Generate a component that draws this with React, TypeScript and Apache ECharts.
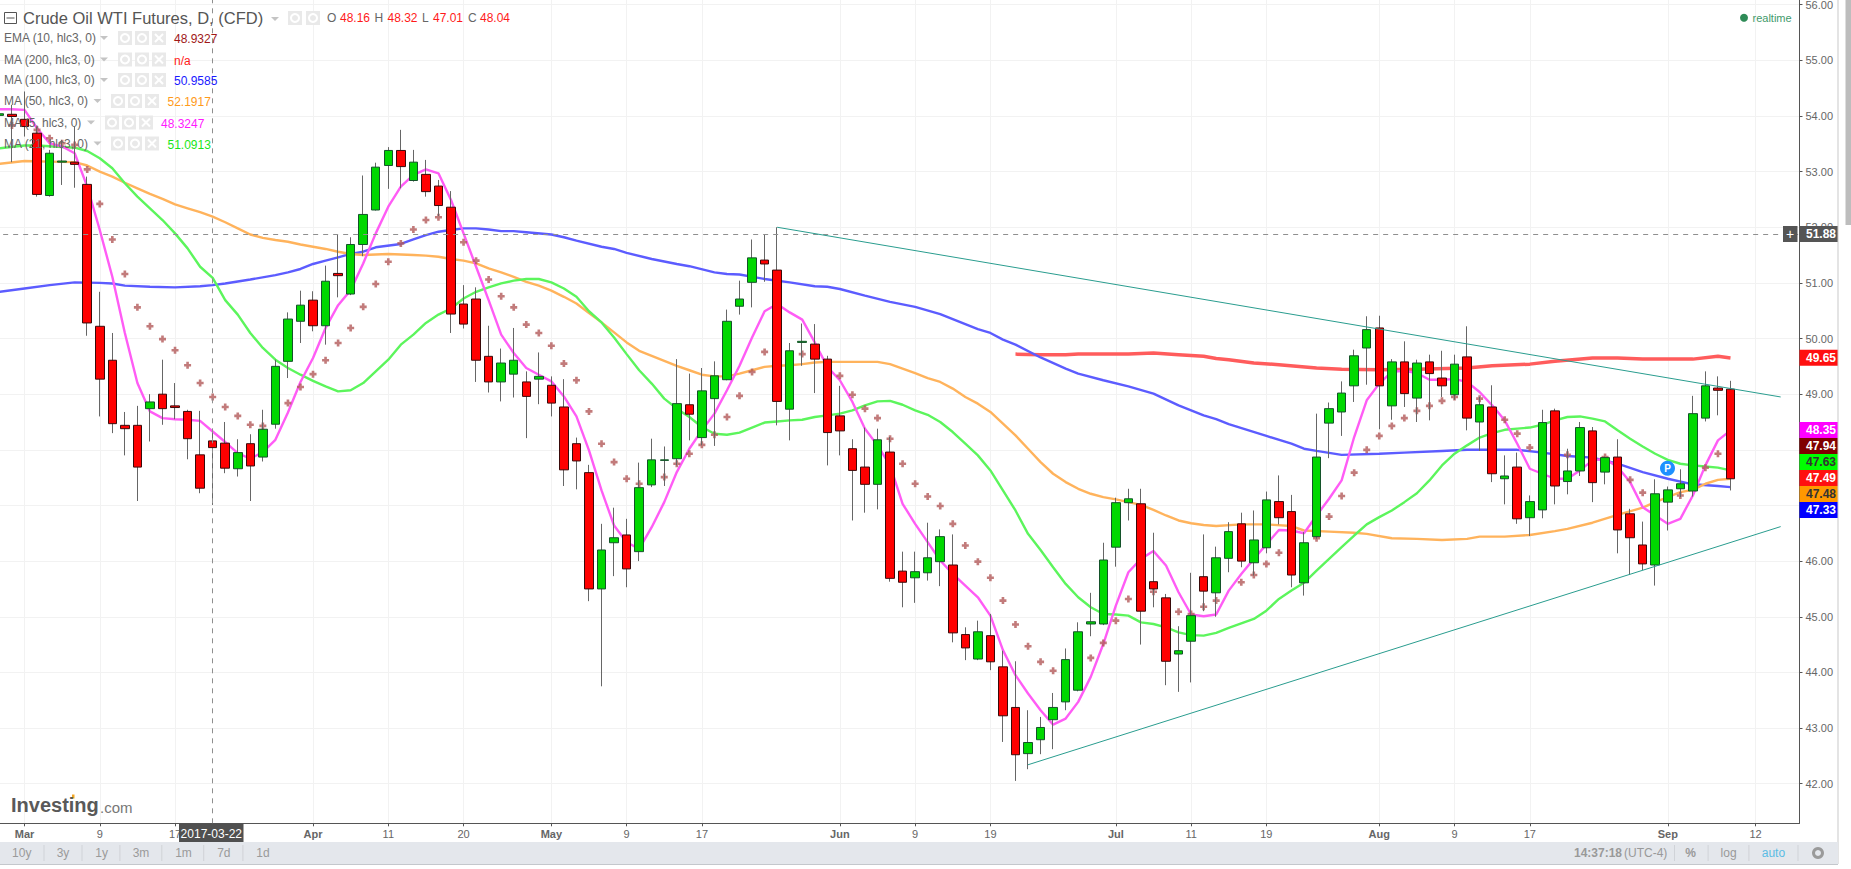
import React, { useEffect, useRef } from "react";
import * as echarts from "echarts";

// Candles, oldest first: Feb 27 2017 .. Sep 8 2017
const opens = [54.01,54.03,53.94,53.69,52.57,53.17,53.17,52.77,50.22,49.61,
48.44,48.44,48.74,49.0,48.79,48.69,47.91,48.16,48.12,47.66,
48.11,47.87,48.46,49.59,50.31,50.69,50.23,51.17,50.8,51.69,
52.31,53.11,53.38,52.84,52.95,52.74,52.36,50.62,50.71,49.68,
49.22,49.36,49.22,49.27,49.16,48.77,48.11,47.59,45.5,46.33,
46.47,46.17,47.37,47.81,47.84,48.81,48.22,48.92,49.26,50.58,
51.01,51.41,51.23,48.73,49.93,49.9,49.63,48.61,48.02,47.69,
47.38,47.96,45.82,45.7,45.79,45.99,45.93,44.68,44.24,44.66,
44.1,43.37,42.54,42.79,43.15,43.47,43.68,44.87,44.87,46.25,
47.05,47.03,45.63,45.34,44.33,44.56,45.72,45.43,46.05,46.67,
45.97,46.24,47.07,46.89,45.61,46.44,48.48,48.68,49.15,49.83,
50.19,48.79,49.58,48.93,49.58,49.29,48.99,49.67,48.5,48.77,
47.48,47.69,46.78,46.92,48.7,47.43,47.62,48.34,47.6,47.87,
46.85,46.29,45.93,47.06,47.3,47.26,48.57,49.11,49.09];
const closes = [54.04,53.99,53.81,52.59,53.33,53.19,53.13,50.28,49.27,48.47,
48.38,47.69,48.86,48.74,48.76,48.2,47.31,48.04,47.67,47.95,
47.71,48.37,49.5,50.35,50.6,50.23,51.03,51.13,51.69,52.23,
53.08,53.38,53.09,53.17,52.64,52.39,50.44,50.26,49.61,49.22,
49.56,49.61,48.96,49.32,48.84,47.64,47.8,45.5,46.2,46.42,
45.86,47.32,47.82,47.82,48.83,48.64,49.06,49.33,50.31,50.71,
51.45,51.34,48.87,49.78,49.95,49.63,48.31,48.34,47.63,47.38,
48.18,45.69,45.62,45.81,46.06,46.44,44.71,44.44,44.73,44.19,
43.22,42.52,42.74,43.01,43.37,44.23,44.73,44.91,46.02,47.05,
47.12,45.1,45.5,44.2,44.39,45.02,45.46,46.06,46.53,46.0,
46.38,47.1,46.78,45.75,46.33,47.87,48.74,49.02,49.69,50.16,
49.15,49.58,49.01,49.56,49.37,49.15,49.54,48.57,48.81,47.57,
47.53,46.76,47.07,48.49,47.35,47.62,48.4,47.41,47.86,46.56,
46.42,45.95,47.21,47.28,47.39,48.65,49.15,49.07,47.48];
const lows = [53.3,53.17,53.63,52.55,52.55,52.76,52.71,50.05,48.6,48.3,
47.9,47.08,48.15,48.45,48.55,47.83,47.22,47.01,47.58,47.52,
47.08,47.79,48.38,49.29,49.92,50.13,49.89,50.74,50.78,51.48,
52.3,52.69,52.7,52.82,52.55,52.2,50.1,50.18,49.22,49.03,
48.87,48.94,48.21,48.82,48.6,47.35,47.29,45.28,43.75,45.73,
45.53,46.0,47.33,47.35,47.72,48.17,48.08,48.07,49.25,50.43,
50.56,51.02,48.44,48.17,49.51,49.02,47.72,47.9,46.73,46.87,
46.93,45.63,45.17,45.25,45.65,45.55,44.54,44.22,44.22,44.04,
42.75,42.05,42.26,42.53,42.62,43.32,43.66,44.65,44.85,45.9,
46.73,44.5,45.17,43.77,43.65,43.82,45.1,45.0,45.8,45.89,
45.74,46.14,46.66,45.53,45.38,46.4,47.85,48.25,48.86,49.17,
48.37,48.54,48.77,48.5,48.53,48.95,48.9,48.35,47.98,47.42,
47.02,46.67,46.45,46.77,47.02,47.2,47.53,47.06,47.38,46.14,
45.75,45.84,45.56,46.55,47.15,47.16,48.51,48.62,47.27];
const highs = [54.2,54.2,54.44,53.8,53.39,53.57,53.81,52.91,50.84,50.1,
48.68,48.79,49.0,49.62,49.2,48.72,48.7,48.32,48.5,48.19,
48.28,48.72,49.62,50.47,50.86,50.85,51.31,51.87,51.82,52.93,
53.16,53.44,53.75,53.39,53.21,52.85,52.65,50.96,50.92,50.23,
49.82,50.19,49.41,49.75,49.32,49.27,48.22,47.73,46.67,46.96,
46.76,47.77,48.2,48.06,49.63,49.37,49.47,49.59,50.52,51.04,
51.78,51.87,52.0,49.92,50.27,50.26,49.69,49.15,48.19,48.4,
48.38,48.23,46.17,46.17,46.69,46.57,46.48,44.81,44.93,45.05,
44.39,44.2,43.32,43.2,43.63,44.43,44.9,45.43,46.33,47.14,
47.3,47.3,46.51,45.41,44.83,45.79,46.48,46.26,46.7,46.87,
46.91,47.25,47.54,47.19,46.52,48.65,48.85,49.23,49.8,50.4,
50.41,49.63,49.95,49.62,49.71,49.78,49.71,50.22,48.95,49.16,
47.9,47.95,47.18,48.72,48.74,48.02,48.5,48.41,47.88,48.19,
46.94,46.71,47.47,47.34,47.65,48.97,49.41,49.32,49.24];

// Indicators as [day index (Mar 1 = 0), price] readings
const ema10: number[][] = [[-1,53.83],[1,53.75],[2,53.6],[3,53.51],[4,53.48],[5,53.04],[6,52.42],[7,51.78],[8,51.16],[9,50.56],[10,50.22],[11,49.99],[12,49.79],[13,49.52],[14,49.2],[15,48.95],[16,48.77],[17,48.61],[18,48.45],[19,48.43],[21,48.84],[22,49.13],[23,49.36],[24,49.61],[25,49.92],[26,50.19],[27,50.57],[28,50.98],[29,51.38],[30,51.71],[31,51.96],[32,52.13],[33,52.18],[35,51.73],[36,51.4],[37,51.06],[38,50.76],[39,50.56],[40,50.25],[41,50.1],[42,49.87],[43,49.55],[44,49.25],[45,48.69],[46,48.11],[47,47.78],[48,47.48],[49,47.39],[51,47.51],[52,47.75],[53,47.93],[54,48.09],[55,48.27],[56,48.59],[57,48.97],[58,49.4],[59,49.76],[62,49.72],[65,49.33],[66,48.99],[67,48.74],[68,48.57],[69,48.2],[70,47.75],[71,47.39],[72,47.16],[73,46.99],[74,46.67],[75,46.28],[76,45.99],[77,45.7],[78,45.29],[79,44.86],[80,44.47],[81,44.19],[82,44.03],[85,44.26],[86,44.53],[87,44.93],[88,45.32],[90,45.45],[92,45.09],[93,45.05],[94,45.18],[95,45.29],[97,45.62],[98,45.75],[99,45.95],[100,46.15],[103,46.41],[104,46.8],[105,47.17],[106,47.59],[107,48.0],[108,48.25],[109,48.43],[110,48.57],[111,48.7],[112,48.79],[113,48.88],[114,48.95],[116,48.92],[118,48.54],[119,48.29],[120,48.04],[123,47.91],[126,47.87],[128,47.46],[129,47.23],[132,47.18],[134,47.68],[135,47.93]];
const ma5: number[][] = [[-2,54.12],[-1,54.12],[0,54.11],[1,53.78],[2,53.51],[3,53.45],[4,53.33],[5,52.73],[6,51.95],[7,51.11],[8,50.1],[9,49.2],[10,48.69],[11,48.57],[12,48.55],[13,48.54],[14,48.52],[15,48.33],[16,48.14],[17,47.94],[18,47.84],[19,47.96],[20,48.18],[21,48.67],[22,49.22],[23,49.65],[24,50.19],[25,50.6],[26,50.87],[27,51.35],[28,51.89],[29,52.37],[30,52.73],[31,52.94],[32,53.04],[33,52.97],[34,52.49],[35,51.89],[36,51.29],[37,50.69],[38,50.07],[39,49.74],[40,49.47],[41,49.35],[42,49.23],[43,48.96],[44,48.6],[45,47.99],[46,47.27],[47,46.64],[48,46.34],[49,46.22],[50,46.61],[51,47.06],[52,47.6],[53,48.02],[54,48.35],[55,48.65],[56,49.07],[57,49.51],[58,50.02],[59,50.49],[60,50.62],[61,50.47],[62,50.34],[63,49.93],[64,49.49],[65,49.25],[66,48.86],[67,48.38],[68,48.08],[69,47.72],[70,47.03],[71,46.67],[72,46.34],[73,46.01],[74,45.77],[75,45.56],[76,45.35],[77,45.02],[78,44.4],[79,43.95],[80,43.62],[81,43.32],[82,43.06],[83,43.17],[84,43.47],[85,43.92],[86,44.51],[87,45.2],[88,45.8],[89,46.04],[90,46.18],[91,45.92],[92,45.44],[93,45.04],[94,45.01],[95,45.04],[96,45.47],[97,45.77],[98,46.04],[99,46.3],[100,46.56],[101,46.55],[102,46.5],[103,46.82],[104,47.12],[105,47.45],[106,48.23],[107,48.89],[108,49.19],[109,49.4],[110,49.42],[111,49.38],[112,49.26],[113,49.26],[114,49.27],[115,49.22],[116,49.04],[117,48.8],[118,48.53],[119,48.11],[120,47.66],[121,47.57],[122,47.48],[123,47.48],[124,47.63],[125,47.81],[126,47.84],[127,47.69],[128,47.42],[129,46.97],[130,46.82],[131,46.67],[132,46.76],[133,47.18],[134,47.72],[135,48.17],[136,48.35]];
const ma21: number[][] = [[-2,53.42],[0,53.47],[1,53.47],[4,53.43],[5,53.37],[6,53.24],[7,53.06],[8,52.79],[9,52.55],[10,52.34],[11,52.13],[12,51.89],[13,51.62],[14,51.29],[15,51.09],[16,50.69],[17,50.43],[18,50.1],[19,49.83],[20,49.62],[21,49.47],[22,49.35],[23,49.24],[24,49.14],[25,49.05],[26,49.07],[27,49.2],[28,49.41],[29,49.62],[30,49.89],[31,50.07],[32,50.28],[33,50.43],[34,50.54],[35,50.72],[36,50.84],[37,50.92],[38,50.99],[39,51.04],[40,51.07],[41,51.07],[42,51.01],[43,50.9],[44,50.75],[45,50.49],[46,50.29],[47,50.02],[48,49.72],[49,49.43],[50,49.19],[51,48.92],[52,48.74],[53,48.59],[54,48.41],[55,48.29],[56,48.27],[57,48.31],[58,48.4],[59,48.49],[60,48.51],[61,48.53],[62,48.54],[63,48.59],[64,48.62],[65,48.65],[66,48.71],[67,48.8],[68,48.87],[69,48.88],[70,48.81],[71,48.71],[72,48.63],[73,48.5],[74,48.32],[75,48.11],[76,47.9],[77,47.63],[78,47.27],[79,46.91],[80,46.49],[81,46.2],[82,45.89],[83,45.59],[84,45.35],[85,45.17],[86,45.05],[87,45.04],[88,45.02],[89,44.9],[90,44.87],[91,44.81],[92,44.72],[93,44.67],[94,44.66],[95,44.71],[96,44.8],[97,44.88],[98,44.96],[99,45.11],[100,45.32],[101,45.47],[102,45.61],[103,45.83],[104,46.04],[105,46.25],[106,46.46],[107,46.66],[108,46.79],[109,46.91],[110,47.06],[111,47.22],[112,47.45],[113,47.72],[114,47.93],[115,48.08],[116,48.22],[117,48.3],[118,48.36],[119,48.38],[120,48.4],[121,48.45],[122,48.53],[123,48.59],[124,48.6],[125,48.56],[126,48.51],[127,48.35],[128,48.2],[129,48.06],[130,47.93],[131,47.82],[132,47.75],[133,47.72],[134,47.7],[135,47.68],[136,47.63]];
const ma50: number[][] = [[-2,53.14],[0,53.19],[2,53.18],[4,53.17],[5,53.11],[6,53.0],[7,52.91],[8,52.8],[9,52.7],[10,52.6],[11,52.51],[12,52.41],[13,52.34],[14,52.27],[15,52.19],[16,52.09],[17,51.98],[18,51.87],[19,51.81],[20,51.77],[21,51.74],[22,51.69],[23,51.65],[24,51.61],[25,51.56],[26,51.52],[27,51.5],[28,51.51],[29,51.52],[30,51.51],[31,51.5],[32,51.49],[33,51.47],[34,51.43],[35,51.4],[36,51.35],[37,51.26],[38,51.19],[39,51.11],[40,51.02],[41,50.95],[42,50.86],[43,50.75],[44,50.63],[45,50.46],[46,50.29],[47,50.11],[48,49.93],[49,49.78],[50,49.69],[51,49.6],[52,49.51],[53,49.43],[54,49.35],[55,49.32],[56,49.32],[57,49.37],[58,49.43],[59,49.49],[60,49.51],[61,49.52],[62,49.54],[63,49.57],[64,49.58],[65,49.58],[66,49.58],[67,49.58],[68,49.58],[69,49.54],[70,49.46],[71,49.38],[72,49.29],[73,49.22],[74,49.1],[75,48.95],[76,48.83],[77,48.68],[78,48.47],[79,48.26],[80,48.02],[81,47.78],[82,47.57],[83,47.42],[84,47.3],[85,47.21],[86,47.15],[87,47.11],[88,47.06],[89,47.01],[90,46.92],[91,46.82],[92,46.73],[93,46.68],[94,46.65],[95,46.63],[97,46.66],[99,46.66],[101,46.63],[102,46.55],[104,46.53],[106,46.51],[107,46.49],[109,46.41],[111,46.4],[113,46.38],[115,46.4],[116,46.44],[118,46.44],[120,46.47],[122,46.54],[123,46.58],[125,46.69],[127,46.83],[129,46.96],[130,47.06],[132,47.24],[133,47.28],[134,47.39],[135,47.46],[136,47.48]];
const ma100: number[][] = [[-2,50.84],[0,50.9],[2,50.96],[4,51.01],[6,51.0],[7,50.99],[8,50.95],[10,50.93],[12,50.92],[14,50.94],[15,50.96],[16,50.99],[18,51.06],[20,51.14],[21,51.19],[22,51.25],[23,51.34],[24,51.4],[25,51.46],[26,51.52],[27,51.56],[28,51.64],[30,51.7],[31,51.78],[32,51.86],[33,51.92],[34,51.95],[35,51.98],[36,51.98],[37,51.96],[38,51.93],[39,51.93],[40,51.91],[42,51.87],[43,51.82],[44,51.76],[46,51.65],[47,51.61],[48,51.54],[50,51.43],[52,51.34],[53,51.3],[55,51.19],[56,51.16],[57,51.15],[59,51.07],[61,51.01],[63,50.94],[64,50.93],[65,50.89],[67,50.77],[69,50.66],[71,50.57],[73,50.44],[75,50.26],[76,50.17],[77,50.1],[78,49.98],[79,49.89],[81,49.66],[83,49.46],[84,49.37],[86,49.25],[88,49.14],[90,49.01],[92,48.8],[94,48.62],[95,48.55],[96,48.46],[99,48.25],[101,48.11],[102,48.02],[103,47.98],[105,47.91],[108,47.93],[110,47.95],[113,47.98],[115,48.0],[119,48.0],[121,47.95],[123,47.89],[125,47.86],[127,47.75],[129,47.6],[131,47.48],[133,47.38],[135,47.35],[136,47.33]];
const ma200: number[][] = [[79,49.72],[81,49.71],[83,49.71],[84,49.72],[88,49.72],[90,49.74],[92,49.71],[94,49.68],[95,49.64],[96,49.62],[98,49.56],[100,49.53],[103,49.47],[105,49.45],[108,49.44],[111,49.45],[115,49.47],[117,49.51],[120,49.54],[122,49.59],[125,49.65],[127,49.65],[129,49.63],[133,49.63],[135,49.68],[136,49.65]];
const upperTrend: number[][] = [[60,52.0],[140,48.95]];
const lowerTrend: number[][] = [[80,42.34],[140,46.62]];

const priceTicks = [42,43,44,45,46,47,48,49,50,51,52,53,54,55,56];
// 47.00 and 48.00 lie completely under the last-value chips
const priceLabels = [42,43,44,45,46,49,50,51,52,53,54,55,56];
const dateTicks: Record<string, string> = {
  "2017-03-01":"Mar","2017-03-09":"9","2017-03-17":"17","2017-04-03":"Apr","2017-04-11":"11","2017-04-20":"20",
  "2017-05-01":"May","2017-05-09":"9","2017-05-17":"17","2017-06-01":"Jun","2017-06-09":"9","2017-06-19":"19",
  "2017-07-03":"Jul","2017-07-11":"11","2017-07-19":"19","2017-08-01":"Aug","2017-08-09":"9","2017-08-17":"17",
  "2017-09-01":"Sep","2017-09-12":"12",
};
const monthTicks = ["Mar","Apr","May","Jun","Jul","Aug","Sep"];
const crossDate = "2017-03-22";
const crossPrice = 51.88;
const rangeButtons = ["10y","3y","1y","3m","1m","7d","1d"];

const sans = '"Liberation Sans", Arial, sans-serif';
const BANDS = 144;
const categories: string[] = [];
for (let d = Date.UTC(2017, 1, 27); categories.length < BANDS; d += 86400000) {
  const dt = new Date(d);
  const s = dt.toISOString().slice(0, 10);
  if (dt.getUTCDay() !== 0 && dt.getUTCDay() !== 6 && s !== "2017-04-14") categories.push(s);
}
const shift = (pts: number[][]) => pts.map(([i, v]) => [i + 2, v]);

function txt(x: number, y: number, text: string, fill: string, fontSize = 12, extra: any = {}) {
  return { type: "text", x, y, z: 50, style: { text, fill, fontSize, fontFamily: sans, textVerticalAlign: "middle", ...extra } };
}
function rect(x: number, y: number, width: number, height: number, fill: string, z = 40) {
  return { type: "rect", z, shape: { x, y, width, height }, style: { fill } };
}
function caret(x: number, y: number) {
  return { type: "polygon", z: 50, shape: { points: [[x, y], [x + 8, y], [x + 4, y + 4]] }, style: { fill: "#c4c4c4" } };
}
function iconBtn(x: number, y: number, kind: string) {
  const els: any[] = [rect(x, y - 7, 14, 14, "#e9e9e9")];
  if (kind === "x") {
    els.push({ type: "line", z: 51, shape: { x1: x + 3, y1: y - 4, x2: x + 11, y2: y + 4 }, style: { stroke: "#fff", lineWidth: 2 } });
    els.push({ type: "line", z: 51, shape: { x1: x + 11, y1: y - 4, x2: x + 3, y2: y + 4 }, style: { stroke: "#fff", lineWidth: 2 } });
  } else {
    els.push({ type: "ring", z: 51, shape: { cx: x + 7, cy: y, r: 5, r0: 3 }, style: { fill: "#fff" } });
  }
  return els;
}

const legendRows = [
  { label: "EMA (10, hlc3, 0)", value: "48.9327", color: "#a01818", y: 38, val: 174, caret: 100, btn: 118 },
  { label: "MA (200, hlc3, 0)", value: "n/a", color: "#ff1a1a", y: 59.5, val: 174, caret: 100, btn: 118 },
  { label: "MA (100, hlc3, 0)", value: "50.9585", color: "#1a1aff", y: 80, val: 174, caret: 100, btn: 118 },
  { label: "MA (50, hlc3, 0)", value: "52.1917", color: "#ff9a1a", y: 101, val: 167.5, caret: 93.5, btn: 111 },
  { label: "MA (5, hlc3, 0)", value: "48.3247", color: "#ff1aff", y: 122.5, val: 161, caret: 87, btn: 105 },
  { label: "MA (21, hlc3, 0)", value: "51.0913", color: "#1ae61a", y: 143.5, val: 167.5, caret: 93.5, btn: 111 },
];
const priceChips = [
  { v: "49.65", y: 357.7, bg: "#ff1010", fg: "#fff" },
  { v: "48.35", y: 430, bg: "#ff00ff", fg: "#fff" },
  { v: "47.94", y: 446, bg: "#800000", fg: "#fff" },
  { v: "47.63", y: 462, bg: "#00ff00", fg: "#333" },
  { v: "47.49", y: 478, bg: "#ff1010", fg: "#fff" },
  { v: "47.48", y: 494, bg: "#ff9800", fg: "#333" },
  { v: "47.33", y: 510, bg: "#0000ff", fg: "#fff" },
];

function buildGraphic() {
  const g: any[] = [];
  // header
  g.push({ type: "rect", z: 50, shape: { x: 4.5, y: 12.5, width: 12, height: 11 }, style: { fill: "none", stroke: "#555", lineWidth: 1 } });
  g.push({ type: "line", z: 50, shape: { x1: 6.5, y1: 18, x2: 14.5, y2: 18 }, style: { stroke: "#555", lineWidth: 1 } });
  g.push(txt(23, 18, "Crude Oil WTI Futures, D, (CFD)", "#555", 16.5));
  g.push(caret(271, 17));
  g.push(...iconBtn(288, 18, "o"), ...iconBtn(306, 18, "o"));
  g.push(txt(327, 18, "O", "#666", 12), txt(340, 18, "48.16", "#ff1a1a", 12));
  g.push(txt(374.5, 18, "H", "#666", 12), txt(387.5, 18, "48.32", "#ff1a1a", 12));
  g.push(txt(422, 18, "L", "#666", 12), txt(433, 18, "47.01", "#ff1a1a", 12));
  g.push(txt(468, 18, "C", "#666", 12), txt(480, 18, "48.04", "#ff1a1a", 12));
  // indicator rows
  for (const r of legendRows) {
    g.push(txt(4, r.y, r.label, "#666", 12));
    g.push(caret(r.caret, r.y - 2));
    g.push(...iconBtn(r.btn, r.y, "o"), ...iconBtn(r.btn + 17, r.y, "o"), ...iconBtn(r.btn + 34, r.y, "x"));
    g.push(txt(r.val, r.y + 1, r.value, r.color, 12));
  }
  // realtime
  g.push({ type: "circle", z: 50, shape: { cx: 1744, cy: 17.7, r: 4 }, style: { fill: "#2e8b57" } });
  g.push(txt(1752.5, 17.5, "realtime", "#3f9a6b", 11));
  // right side chips
  g.push(rect(1783, 226, 14.5, 16, "#555"), txt(1790.2, 234, "+", "#fff", 14, { textAlign: "center" }));
  g.push(rect(1799.5, 226, 38.5, 16, "#555"), txt(1806, 234, "51.88", "#fff", 12, { fontWeight: "bold" }));
  for (const c of priceChips) {
    g.push(rect(1799.5, c.y - 8, 38.5, 16, c.bg), txt(1806, c.y, c.v, c.fg, 12, { fontWeight: "bold" }));
  }
  // frame
  g.push(rect(1837.5, 0, 1, 864, "#c9c9c9"));
  g.push(rect(1845.5, 0, 5.5, 225, "#bdbdbd"));
  // toolbar
  g.push(rect(0, 842, 1838, 22, "#e4e7ec"));
  g.push(rect(0, 864, 1838, 1, "#c4c7cc"));
  const rangeX = [21.7, 63, 101.6, 141, 183.5, 223.8, 263];
  rangeButtons.forEach((b, i) => g.push(txt(rangeX[i], 853, b, "#9a9a9a", 12, { textAlign: "center" })));
  [43.5, 81.5, 119.4, 161.3, 203.2, 242.4, 1674, 1707.6, 1748.4, 1797.5].forEach((x) => g.push(rect(x, 845, 1, 16, "#d0d3d8")));
  g.push(txt(1574, 853, "14:37:18", "#999", 12, { fontWeight: "bold" }));
  g.push(txt(1624, 853, "(UTC-4)", "#999", 12));
  g.push(txt(1690.6, 853, "%", "#999", 12, { textAlign: "center", fontWeight: "bold" }));
  g.push(txt(1728.6, 853, "log", "#999", 12, { textAlign: "center" }));
  g.push(txt(1773.4, 853, "auto", "#5bbce4", 12, { textAlign: "center" }));
  g.push({ type: "ring", z: 50, shape: { cx: 1818, cy: 853, r: 6, r0: 3 }, style: { fill: "#9a9a9a" } });
  // crosshair date chip
  g.push(rect(179, 823.5, 64.5, 18.5, "#505050"), txt(211.3, 833.5, crossDate, "#fff", 12, { textAlign: "center" }));
  // P marker
  g.push({ type: "circle", z: 50, shape: { cx: 1667.5, cy: 468.3, r: 7.5 }, style: { fill: "#1e90ff" } });
  g.push(txt(1667.5, 468.5, "P", "#fff", 10, { textAlign: "center", fontWeight: "bold" }));
  // logo
  g.push(txt(11, 805, "Investing", "#595959", 20, { fontWeight: "bold" }));
  g.push(txt(100, 807, ".com", "#777", 15));
  g.push(rect(72, 794.5, 2.5, 4, "#f5a623"));
  return g;
}

export default function App() {
  const ref = useRef<HTMLDivElement>(null);
  useEffect(() => {
    document.body.style.margin = "0";
    const chart = echarts.init(ref.current!, undefined, { renderer: "svg" });
    const wicks = opens.map((o, i) => [o, closes[i], lows[i], highs[i]]);
    const bodies = opens.map((o, i) => [o, closes[i], Math.min(o, closes[i]), Math.max(o, closes[i])]);
    const line = (name: string, pts: number[][], color: string, width: number, z: number, extra: any = {}) => ({
      name, type: "line", data: shift(pts), showSymbol: false, symbol: "none", z,
      lineStyle: { color, width }, itemStyle: { color }, ...extra,
    });
    const option: any = {
      animation: false,
      backgroundColor: "#fff",
      textStyle: { fontFamily: sans },
      grid: { left: -6.85, top: 0, width: BANDS * 12.544, height: 823.3, containLabel: false, outerBoundsMode: "none" },
      xAxis: {
        type: "category",
        data: categories,
        boundaryGap: true,
        axisLine: { lineStyle: { color: "#555", width: 1 } },
        axisTick: { show: true, length: 3, alignWithLabel: true, interval: (_: number, v: string) => v in dateTicks, lineStyle: { color: "#555" } },
        splitLine: { show: true, alignWithLabel: true, interval: (_: number, v: string) => v in dateTicks, lineStyle: { color: "#f2f2f2", width: 1 } },
        axisLabel: {
          interval: (_: number, v: string) => v in dateTicks,
          formatter: (v: string) => (monthTicks.includes(dateTicks[v]) ? `{m|${dateTicks[v]}}` : dateTicks[v] || ""),
          margin: 5, color: "#666", fontSize: 11, fontFamily: sans,
          rich: { m: { fontWeight: "bold", color: "#666", fontSize: 11, fontFamily: sans } },
        },
      },
      yAxis: {
        type: "value",
        position: "right",
        min: 41.288,
        max: 56.084,
        axisLine: { show: true, lineStyle: { color: "#555", width: 1 } },
        axisTick: { show: true, length: 3, customValues: priceTicks, lineStyle: { color: "#555" } },
        splitLine: { show: true, lineStyle: { color: "#f2f2f2", width: 1 } },
        axisLabel: { customValues: priceLabels, formatter: (v: number) => v.toFixed(2), margin: 6, color: "#666", fontSize: 11, fontFamily: sans },
      },
      graphic: { elements: buildGraphic() },
      series: [
        { name: "EMA 10", type: "scatter", data: shift(ema10), symbol: "path://M2.5,0h3v2.5h2.5v3h-2.5v2.5h-3v-2.5h-2.5v-3h2.5z", symbolSize: 7, z: 2, itemStyle: { color: "#b35a5a" } },
        line("MA 200", ma200, "#ff5c5c", 3.5, 2),
        line("MA 100", ma100, "#5c5cff", 2.4, 2),
        line("MA 50", ma50, "#ffb35c", 2.4, 2),
        line("MA 21", ma21, "#5cf55c", 2.4, 2),
        line("MA 5", ma5, "#ff5cf5", 2.4, 2),
        {
          name: "wick", type: "candlestick", data: wicks, barWidth: 1, z: 3,
          itemStyle: { color: "#666", color0: "#666", borderColor: "#666", borderColor0: "#666", borderWidth: 1 },
        },
        {
          name: "body", type: "candlestick", data: bodies, barWidth: 9, z: 4,
          itemStyle: { color: "#00d800", color0: "#ff0000", borderColor: "#14532a", borderColor0: "#3a0a0a", borderWidth: 1 },
        },
        line("Upper trend", upperTrend, "#2a9d8f", 1, 5),
        line("Lower trend", lowerTrend, "#2a9d8f", 1, 5, {
          markLine: {
            silent: true, symbol: "none", label: { show: false },
            lineStyle: { color: "#8f8f8f", type: [5, 5], width: 1 },
            data: [{ xAxis: crossDate }, { yAxis: crossPrice }],
          },
        }),
      ],
    };
    chart.setOption(option);
    return () => chart.dispose();
  }, []);
  return <div ref={ref} style={{ position: "fixed", left: 0, top: 0, width: 1851, height: 869 }} />;
}
